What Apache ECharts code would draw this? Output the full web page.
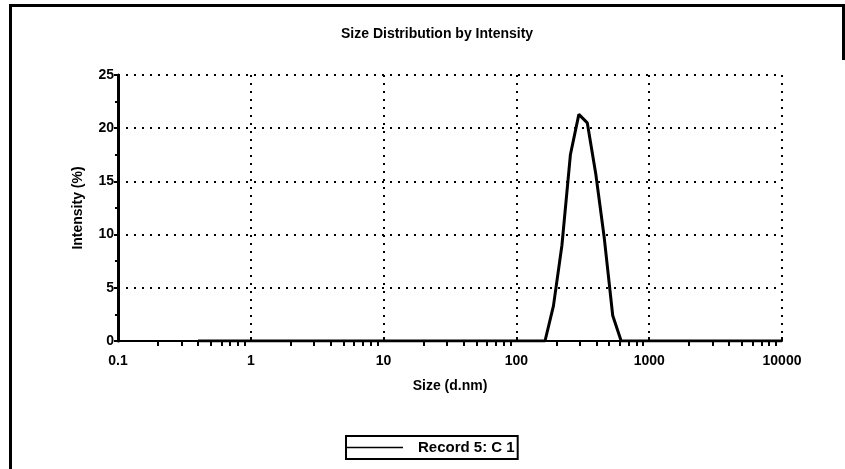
<!DOCTYPE html>
<html>
<head>
<meta charset="utf-8">
<title>Size Distribution by Intensity</title>
<script src="https://cdn.jsdelivr.net/npm/echarts@6/dist/echarts.min.js"></script>
<style>
  html, body { margin: 0; padding: 0; background: #fff; }
  #chart { width: 845px; height: 469px; }
  .frame { position: absolute; left: 9px; top: 4px; width: 834px; height: 500px;
           border-left: 3px solid #000; border-top: 3px solid #000; pointer-events: none; }
  .frame-r { position: absolute; left: 842px; top: 4px; width: 3px; height: 56px; background: #000; }
</style>
</head>
<body>
<div id="chart"></div>
<div class="frame"></div>
<div class="frame-r"></div>
<script>
// size classes (d.nm) and intensity (%)
const sizes = [0.4, 141.8, 164.2, 190.1, 220.2, 255.0, 295.3, 342.0, 396.1, 458.7, 531.2, 615.1, 712.4, 10000]
const intensity = [0, 0, 0, 3.3, 9.0, 17.5, 21.3, 20.5, 15.7, 9.7, 2.4, 0, 0, 0]

const xMajor = [0.1, 1, 10, 100, 1000, 10000]
const xMinor = [
  0.2, 0.3, 0.4, 0.5, 0.6, 0.7, 0.8, 0.9,
  2, 3, 4, 5, 6, 7, 8, 9,
  20, 30, 40, 50, 60, 70, 80, 90,
  200, 300, 400, 500, 600, 700, 800, 900,
  2000, 3000, 4000, 5000, 6000, 7000, 8000, 9000
]
const yTicks = [0, 5, 10, 15, 20, 25]

const FONT = 'Liberation Sans'
const txt = (size) => ({ fontFamily: FONT, fontSize: size, fontWeight: 'bold', color: '#000' })
const chart = echarts.init(document.getElementById('chart'))

const fmt = (v) => String(+(+v).toPrecision(6))

chart.setOption({
  animation: false,
  backgroundColor: '#fff',
  title: {
    text: 'Size Distribution by Intensity',
    left: 336,
    top: 22,
    textStyle: txt(14),
  },
  legend: {
    left: 346,
    top: 436,
    orient: 'horizontal',
    borderColor: '#000',
    borderWidth: 2,
    borderRadius: 0,
    padding: [4, 3, 4, 1],
    icon: 'path://M0 0H100V3H0Z',
    itemWidth: 56,
    itemHeight: 2,
    itemGap: 0,
    textStyle: Object.assign(txt(15), { padding: [0, 0, 0, 10] }),
    data: ['Record 5: C 1'],
  },
  grid: { left: 118, right: 63, top: 75, bottom: 128, containLabel: false },
  xAxis: [
    {
      type: 'log',
      logBase: 10,
      min: 0.1,
      max: 10000,
      name: 'Size (d.nm)',
      nameLocation: 'middle',
      nameGap: 38,
      nameTextStyle: txt(14),
      axisLine: { lineStyle: { color: '#000', width: 2 } },
      axisTick: { show: true, inside: true, length: 4, customValues: xMajor, lineStyle: { color: '#000', width: 2 } },
      axisLabel: Object.assign(txt(14), { customValues: xMajor, formatter: fmt, margin: 13 }),
      splitLine: { show: true, lineStyle: { color: '#000', width: 2, type: [2, 6] } },
    },
    {
      type: 'log',
      logBase: 10,
      min: 0.1,
      max: 10000,
      position: 'bottom',
      axisLine: { show: false },
      axisTick: { show: true, length: 5, customValues: xMinor, lineStyle: { color: '#000', width: 2 } },
      axisLabel: { show: false },
      splitLine: { show: false },
    },
  ],
  yAxis: {
    type: 'value',
    min: 0,
    max: 25,
    interval: 5,
    name: 'Intensity (%)',
    nameLocation: 'middle',
    nameGap: 33,
    nameTextStyle: txt(14),
    axisLine: { show: true, lineStyle: { color: '#000', width: 3 } },
    axisTick: { show: true, length: 4, lineStyle: { color: '#000', width: 2 } },
    minorTick: { show: true, splitNumber: 2, length: 3, lineStyle: { color: '#000', width: 2 } },
    axisLabel: Object.assign(txt(14), {
      margin: 4,
      formatter: (v) => (yTicks.includes(v) ? String(v) : ''),
    }),
    splitLine: { show: true, lineStyle: { color: '#000', width: 2, type: [2, 6] } },
  },
  series: [
    {
      name: 'Record 5: C 1',
      type: 'line',
      xAxisIndex: 0,
      symbol: 'none',
      lineStyle: { color: '#000', width: 3 },
      itemStyle: { color: '#000' },
      data: sizes.map((s, i) => [s, intensity[i]]),
    },
  ],
})
</script>
</body>
</html>
